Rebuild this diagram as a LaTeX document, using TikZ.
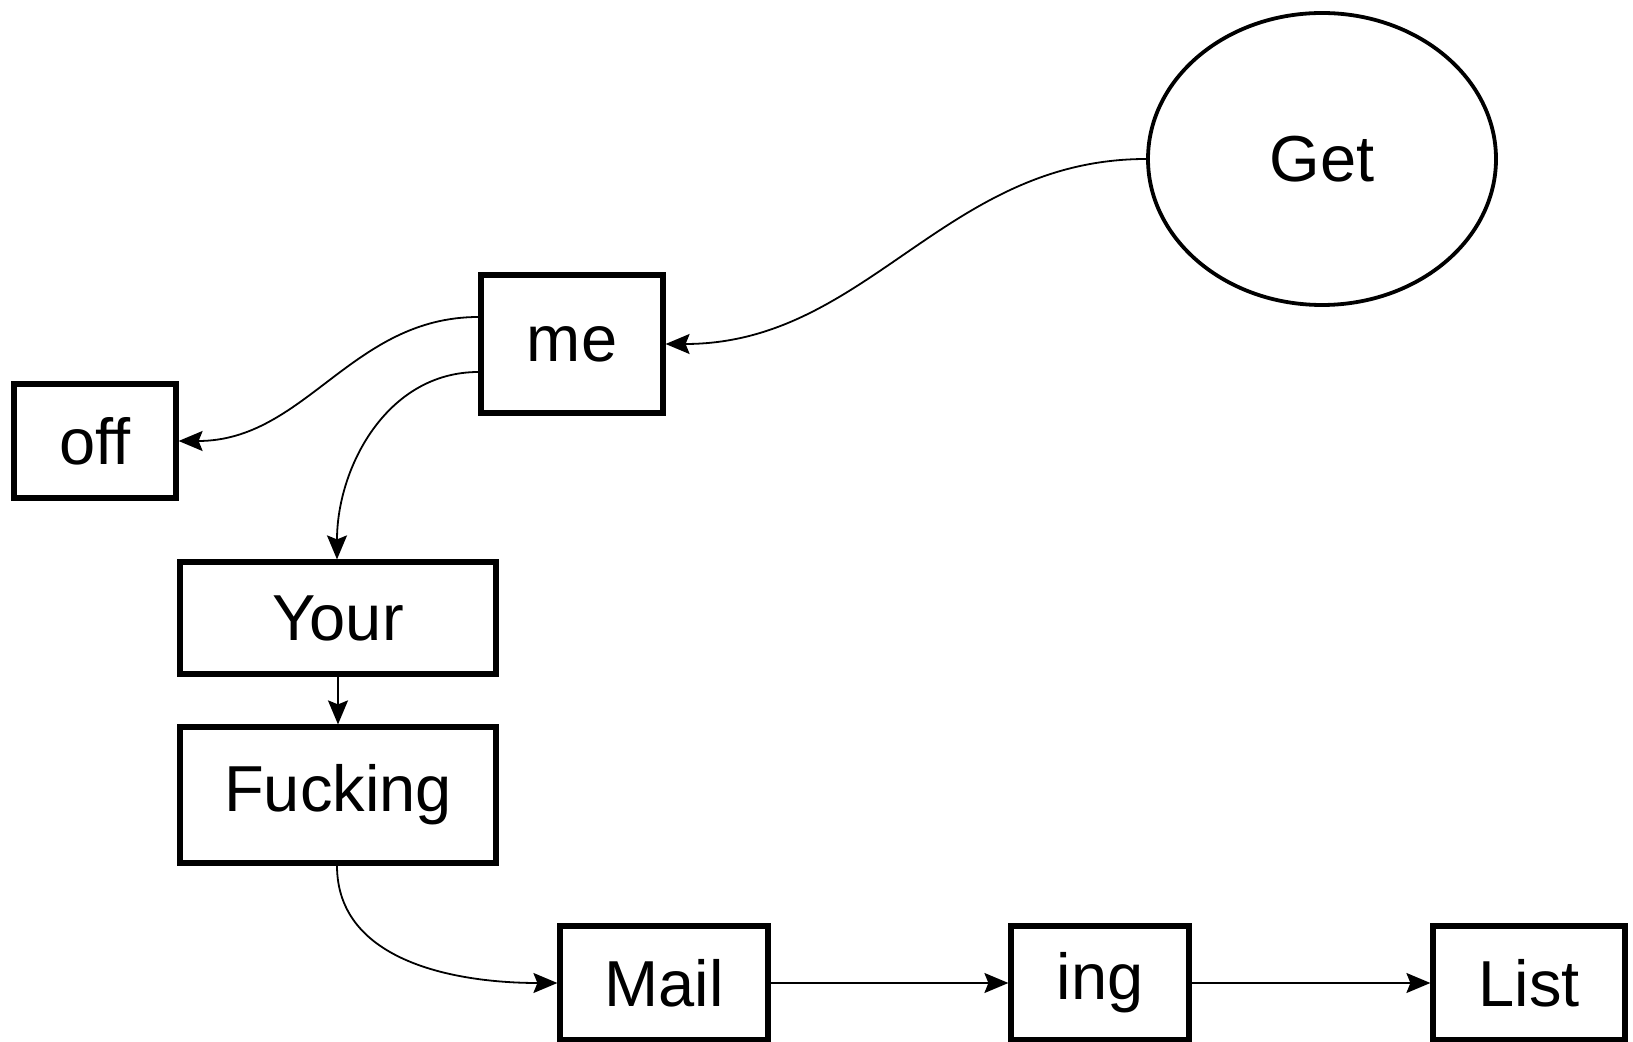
\documentclass[tikz,border=0pt]{standalone}
\usepackage{fontspec}
\setmainfont{Liberation Sans}
\usetikzlibrary{arrows.meta,shapes.geometric}
\begin{document}
\begin{tikzpicture}[x=0.5pt,y=-0.5pt,
  wordfont/.style={font=\fontsize{32.5}{38}\selectfont},
  wordbox/.style={draw=black,line width=2.6pt,rectangle,inner sep=0pt,wordfont},
  conn/.style={line width=0.9pt,-{Stealth[length=12pt,width=10pt,inset=2pt]}}]
\useasboundingbox (0,0) rectangle (1633,1042);
\node[draw=black,line width=1.9pt,ellipse,inner sep=0pt,minimum width=174pt,minimum height=146pt,
  wordfont] (get) at (1322,159) {Get};
\node[wordbox,minimum width=91pt,minimum height=69pt] (me) at (572,344) {me};
\node[wordbox,minimum width=81pt,minimum height=57pt] (off) at (95,441) {off};
\node[wordbox,minimum width=158pt,minimum height=56pt] (your) at (338,618) {Your};
\node[wordbox,minimum width=158pt,minimum height=68pt] (fucking) at (338,795) {Fucking};
\node[wordbox,minimum width=104pt,minimum height=57pt] (mail) at (664,983) {Mail};
\node[wordbox,minimum width=89pt,minimum height=57pt] (ing) at (1100,983) {ing};
\node[wordbox,minimum width=96pt,minimum height=57pt] (list) at (1529,983) {List};
\coordinate (meA) at ([yshift=13.5pt]me.west);
\coordinate (meB) at ([yshift=-14pt]me.west);
\coordinate (yourN) at ([xshift=-0.5pt]your.north);
\coordinate (fuckS) at ([xshift=-0.5pt]fucking.south);
\draw[conn] (get.west) to[out=180,in=0] (me.east);
\draw[conn] (meA) to[out=180,in=0] (off.east);
\draw[conn] (meB) to[out=180,in=90] (yourN);
\draw[conn] (your.south) -- (fucking.north);
\draw[conn] (fuckS) to[out=270,in=180] (mail.west);
\draw[conn] (mail.east) -- (ing.west);
\draw[conn] (ing.east) -- (list.west);
\end{tikzpicture}
\end{document}
